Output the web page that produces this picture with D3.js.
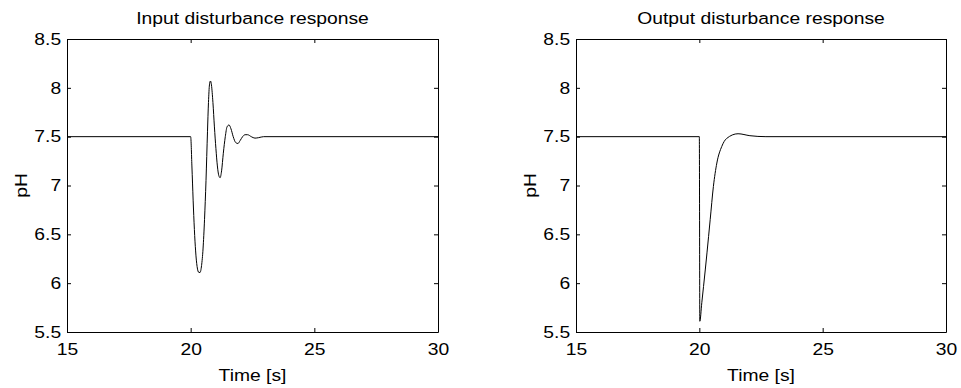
<!DOCTYPE html>
<html>
<head>
<meta charset="utf-8">
<script src="https://cdn.jsdelivr.net/npm/d3@7/dist/d3.min.js"></script>
<style>
  html, body { margin: 0; padding: 0; background: #fff; }
  svg { display: block; }
  text { font-family: "Liberation Sans", Arial, sans-serif; fill: #000; }
</style>
</head>
<body>
<svg id="chart" width="961" height="388"></svg>
<script>
// ---- data ----
const xTicks = [15, 20, 25, 30];
const yTicks = [5.5, 6, 6.5, 7, 7.5, 8, 8.5];
const titles = ["Input disturbance response", "Output disturbance response"];
const xLabel = "Time [s]";
const yLabel = "pH";

const inputTime = [15, 20.0, 20.05, 20.1, 20.15, 20.2, 20.26, 20.33, 20.38, 20.44, 20.5, 20.56, 20.62, 20.68, 20.72, 20.76, 20.80, 20.84, 20.9, 20.96, 21.02, 21.08, 21.14, 21.19, 21.25, 21.32, 21.4, 21.47, 21.55, 21.63, 21.72, 21.82, 21.91, 22.0, 22.1, 22.2, 22.3, 22.45, 22.6, 22.75, 22.95, 30];
const inputPH   = [7.5, 7.5, 7.2, 6.85, 6.55, 6.33, 6.17, 6.11, 6.11, 6.18, 6.35, 6.65, 7.05, 7.55, 7.85, 8.03, 8.07, 8.03, 7.85, 7.6, 7.38, 7.2, 7.1, 7.08, 7.15, 7.33, 7.5, 7.6, 7.62, 7.58, 7.5, 7.44, 7.43, 7.46, 7.5, 7.52, 7.52, 7.5, 7.485, 7.49, 7.5, 7.5];

const outputTime = [15, 20.0, 20.02, 20.1, 20.17, 20.31, 20.44, 20.57, 20.71, 20.91, 21.1, 21.57, 22.05, 22.7, 30];
const outputPH   = [7.5, 7.5, 5.61, 5.8, 5.965, 6.31, 6.65, 6.99, 7.23, 7.40, 7.48, 7.53, 7.51, 7.50, 7.5];

const panels = [
  { title: titles[0], t: inputTime, v: inputPH, x0: 67, x1: 438 },
  { title: titles[1], t: outputTime, v: outputPH, x0: 576, x1: 946 }
];

const yTop = 39, yBot = 332;
const fontSize = 16.5, stretch = 1.17;
const svg = d3.select("#chart");

panels.forEach(p => {
  const x = d3.scaleLinear().domain([15, 30]).range([p.x0, p.x1]);
  const y = d3.scaleLinear().domain([5.5, 8.5]).range([yBot, yTop]);
  const g = svg.append("g");

  // curve
  const line = d3.line().x((d, i) => x(p.t[i])).y((d, i) => y(p.v[i])).curve(d3.curveMonotoneX);
  g.append("path").datum(p.v).attr("d", line)
    .attr("fill", "none").attr("stroke", "#000").attr("stroke-width", 1);

  // axes
  const bottom = g.append("g").attr("transform", `translate(0,${yBot})`)
    .call(d3.axisBottom(x).tickValues(xTicks).tickSize(-4).tickSizeOuter(0).tickPadding(11).tickFormat(d => String(d)));
  const top = g.append("g").attr("transform", `translate(0,${yTop})`)
    .call(d3.axisTop(x).tickValues(xTicks).tickSize(-4).tickSizeOuter(0).tickFormat(""));
  const left = g.append("g").attr("transform", `translate(${p.x0},0)`)
    .call(d3.axisLeft(y).tickValues(yTicks).tickSize(-4).tickSizeOuter(0).tickPadding(5).tickFormat(d => String(d)));
  const right = g.append("g").attr("transform", `translate(${p.x1},0)`)
    .call(d3.axisRight(y).tickValues(yTicks).tickSize(-4).tickSizeOuter(0).tickFormat(""));

  [bottom, top, left, right].forEach(a => {
    a.selectAll("path.domain").attr("stroke", "#000").attr("stroke-width", 1);
    a.selectAll("line").attr("stroke", "#000").attr("stroke-width", 1);
    a.selectAll("text").attr("font-size", fontSize).attr("font-family", "Liberation Sans, Arial, sans-serif")
      .attr("fill", "#000").attr("transform", `scale(${stretch},1)`);
  });

  const cx = (p.x0 + p.x1) / 2;
  // title
  g.append("text").attr("transform", `translate(${cx},24) scale(${stretch},1)`)
    .attr("text-anchor", "middle").attr("font-size", fontSize).text(p.title);
  // x label
  g.append("text").attr("transform", `translate(${cx},381) scale(${stretch},1)`)
    .attr("text-anchor", "middle").attr("font-size", fontSize).text(xLabel);
  // y label
  g.append("text").attr("transform", `translate(${p.x0 - 40},${(yTop + yBot) / 2}) rotate(-90) scale(${stretch},1)`)
    .attr("text-anchor", "middle").attr("font-size", fontSize).text(yLabel);
});
</script>
</body>
</html>
